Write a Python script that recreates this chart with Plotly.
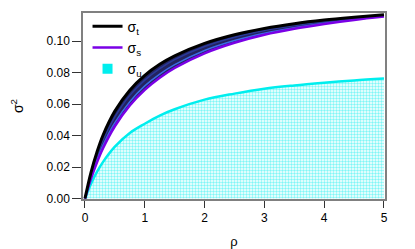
import plotly.graph_objects as go

rho = [0, 0.1, 0.2, 0.3, 0.5, 0.75, 1, 1.25, 1.5, 2, 2.5, 3, 3.5, 4, 4.5, 5]
sigma_t = [0, 0.0165, 0.0294, 0.0400, 0.0555, 0.0688, 0.0782, 0.0852, 0.0906, 0.0985, 0.1040, 0.1080, 0.1110, 0.1133, 0.1151, 0.1167]
sigma_mid1 = [0, 0.0150, 0.0270, 0.0370, 0.0518, 0.0655, 0.0752, 0.0825, 0.0882, 0.0965, 0.1024, 0.1067, 0.1098, 0.1123, 0.1144, 0.1162]
sigma_mid2 = [0, 0.0135, 0.0245, 0.0338, 0.0482, 0.0615, 0.0715, 0.0790, 0.0850, 0.0940, 0.1003, 0.1050, 0.1085, 0.1113, 0.1137, 0.1158]
sigma_s = [0, 0.0125, 0.0229, 0.0318, 0.0459, 0.0591, 0.0690, 0.0767, 0.0829, 0.0922, 0.0989, 0.1040, 0.1078, 0.1108, 0.1134, 0.1155]
sigma_u = [0, 0.0093, 0.0169, 0.0231, 0.0329, 0.0416, 0.0475, 0.0527, 0.0567, 0.0628, 0.0666, 0.0697, 0.0718, 0.0735, 0.0750, 0.0762]

x_ticks = [0, 1, 2, 3, 4, 5]
y_ticks = [0.00, 0.02, 0.04, 0.06, 0.08, 0.10]
y_tick_labels = ["0.00", "0.02", "0.04", "0.06", "0.08", "0.10"]

CYAN = "#00eeee"

fig = go.Figure()

# cyan patterned area (sigma_u)
fig.add_trace(go.Scatter(
    x=rho, y=sigma_u, mode="lines", line=dict(color=CYAN, width=2.5, shape="spline"),
    fill="tozeroy", fillcolor="rgba(255,255,255,0)",
    fillpattern=dict(shape=".", fgcolor=CYAN, bgcolor="white", size=3, solidity=0.5),
    showlegend=False, hoverinfo="skip",
))
# legend entry for sigma_u (small cyan box)
fig.add_trace(go.Scatter(x=[None], y=[None], mode="markers",
                         marker=dict(symbol="square", size=10, color=CYAN),
                         name="σ<sub>u</sub>"))

# band between sigma_s and sigma_t
fig.add_trace(go.Scatter(x=rho, y=sigma_s, mode="lines", line=dict(color="#7a00e6", width=0, shape="spline"),
                         showlegend=False, hoverinfo="skip"))
fig.add_trace(go.Scatter(x=rho, y=sigma_t, mode="lines", line=dict(color="#1e1e5c", width=0, shape="spline"),
                         fill="tonexty", fillcolor="#23235f", showlegend=False, hoverinfo="skip"))
fig.add_trace(go.Scatter(x=rho, y=sigma_mid1, mode="lines", line=dict(color="#2a3a9a", width=1.5, shape="spline"),
                         showlegend=False, hoverinfo="skip"))
fig.add_trace(go.Scatter(x=rho, y=sigma_mid2, mode="lines", line=dict(color="#3b6ae6", width=1.5, shape="spline"),
                         showlegend=False, hoverinfo="skip"))
fig.add_trace(go.Scatter(x=rho, y=sigma_s, mode="lines", line=dict(color="#7a00e6", width=2.5, shape="spline"),
                         name="σ<sub>s</sub>"))
fig.add_trace(go.Scatter(x=rho, y=sigma_t, mode="lines", line=dict(color="black", width=3, shape="spline"),
                         name="σ<sub>t</sub>"))

fig.update_layout(
    width=407, height=241,
    margin=dict(l=75, r=30, t=5, b=50, autoexpand=False),
    paper_bgcolor="white", plot_bgcolor="white",
    font=dict(family="Liberation Sans, Arial, sans-serif", size=12, color="black"),
    showlegend=True,
    legend=dict(x=0.015, y=1.012, xanchor="left", yanchor="top", bgcolor="rgba(255,255,255,0)",
                font=dict(size=14), tracegroupgap=0, traceorder="reversed", itemwidth=30),
    xaxis=dict(range=[-0.033, 5.017], tickvals=x_ticks, ticks="outside", ticklen=7, tickcolor="#333333",
               showgrid=False, zeroline=False, showline=True, mirror=True, linecolor="#808080", linewidth=1.5,
               automargin=False, tickfont=dict(size=12),
               title=dict(text="ρ", standoff=15, font=dict(size=13))),
    yaxis=dict(range=[-0.0003, 0.1178], tickvals=y_ticks, ticktext=y_tick_labels, ticks="outside", ticklen=9,
               tickcolor="#333333", showgrid=False, zeroline=False, showline=True, mirror=True,
               linecolor="#808080", linewidth=1.5, automargin=False, tickfont=dict(size=12),
               title=dict(text="σ<sup>2</sup>", standoff=26, font=dict(size=14))),
)

fig.write_html("out.html")
